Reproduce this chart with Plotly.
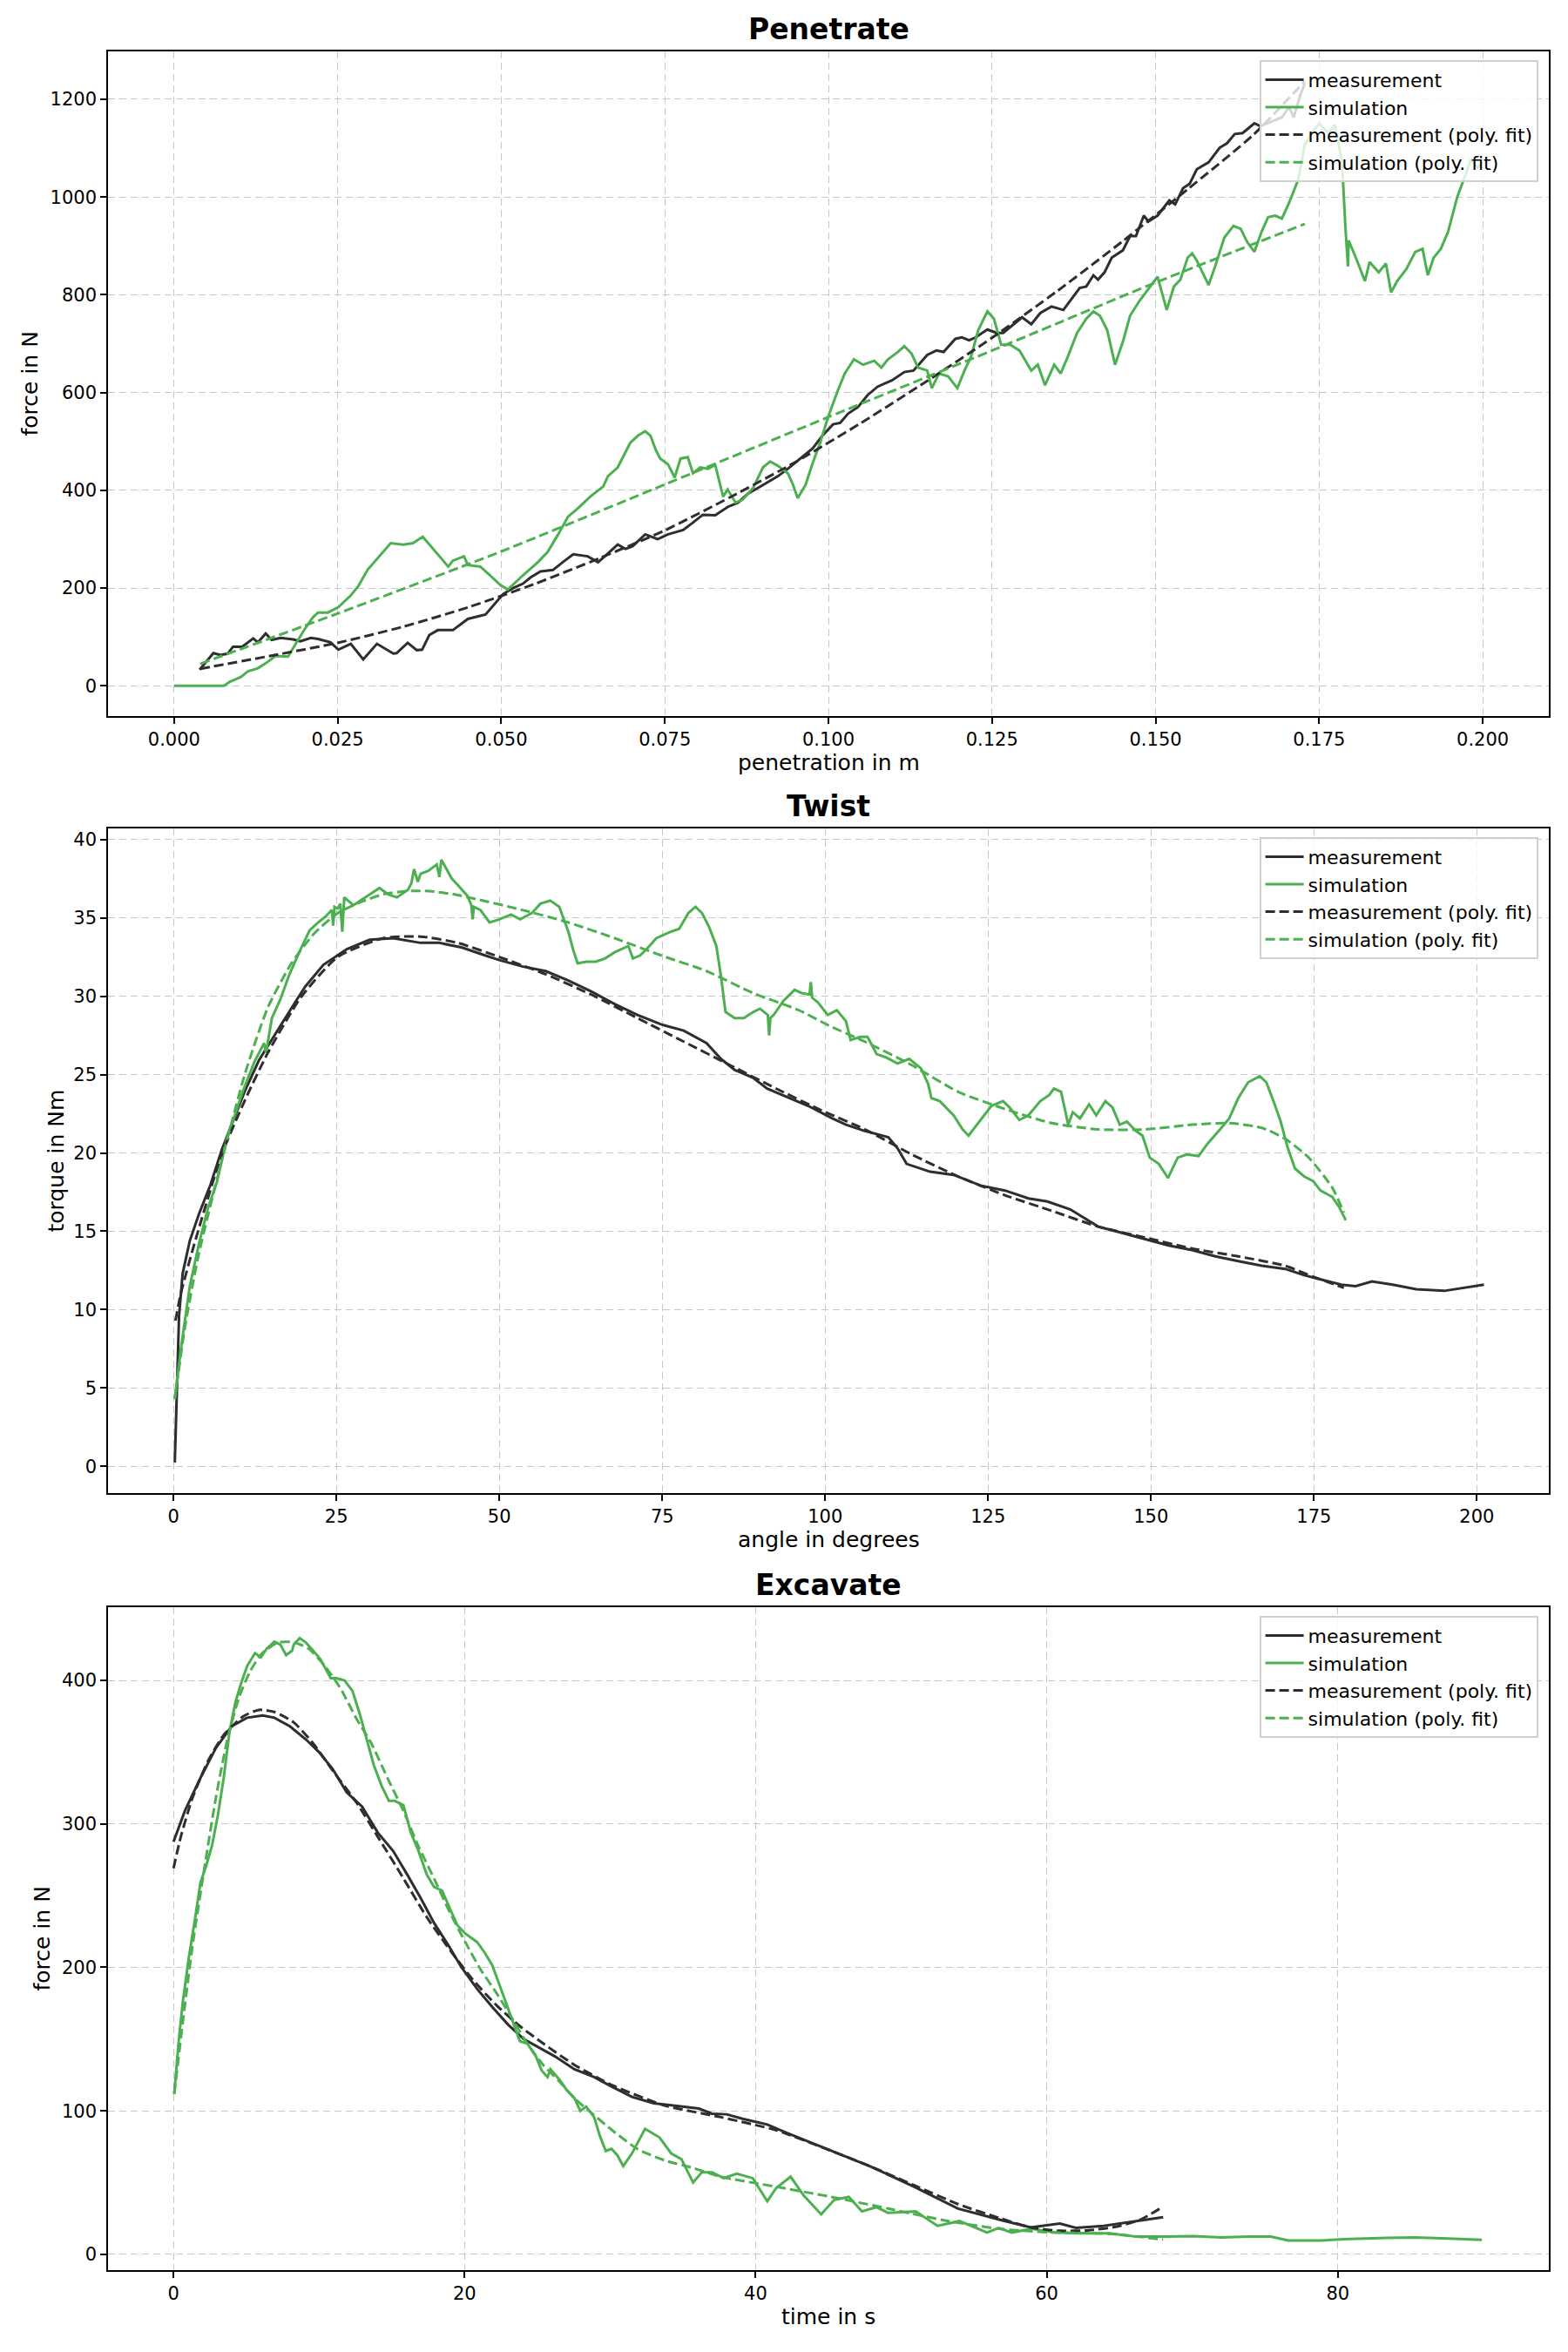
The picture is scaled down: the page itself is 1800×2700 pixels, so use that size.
import plotly.graph_objects as go

# ---------------- Penetrate ----------------
pen_meas_x = [0.0039, 0.006, 0.0071, 0.0082, 0.009, 0.0104, 0.0121, 0.0128, 0.014, 0.0149, 0.0163, 0.0182,
              0.0193, 0.0209, 0.022, 0.0239, 0.0251, 0.027, 0.0289, 0.031, 0.0335, 0.034, 0.0357, 0.0371,
              0.0379, 0.039, 0.0403, 0.0426, 0.0449, 0.0476, 0.0503, 0.0518, 0.0533, 0.0545, 0.056, 0.0579,
              0.0594, 0.061, 0.0632, 0.0648, 0.0663, 0.0678, 0.069, 0.0701, 0.072, 0.0739, 0.0755, 0.0778,
              0.0793, 0.0808, 0.0827, 0.0846, 0.0862, 0.0877, 0.09, 0.0923, 0.0938, 0.0957, 0.0976, 0.0991,
              0.1007, 0.1018, 0.103, 0.1045, 0.106, 0.1075, 0.1097, 0.1116, 0.113, 0.1151, 0.1165, 0.1176,
              0.1194, 0.1204, 0.1215, 0.1225, 0.1243, 0.1257, 0.1267, 0.1296, 0.131, 0.1324, 0.1341, 0.1359,
              0.1384, 0.1394, 0.1405, 0.1412, 0.1422, 0.1433, 0.145, 0.1461, 0.147, 0.1482, 0.1489, 0.1503,
              0.1521, 0.153, 0.1542, 0.1552, 0.1563, 0.1581, 0.1598, 0.1609, 0.1621, 0.1633, 0.1651, 0.166,
              0.1676, 0.1693, 0.1704, 0.1711, 0.1721, 0.1728]
pen_meas_y = [33, 67, 63, 66, 80, 80, 97, 89, 107, 94, 98, 95,
              91, 98, 96, 89, 74, 86, 54, 86, 66, 67, 88, 73,
              74, 104, 114, 114, 137, 146, 188, 200, 209, 222, 234, 237,
              253, 269, 265, 253, 271, 289, 280, 286, 310, 300, 310, 319,
              334, 350, 349, 366, 375, 393, 411, 429, 444, 465, 486, 512,
              535, 538, 557, 570, 595, 612, 625, 642, 645, 677, 686, 683,
              710, 713, 707, 713, 729, 722, 722, 754, 740, 763, 776, 769,
              814, 817, 840, 831, 846, 876, 891, 920, 920, 962, 950, 962,
              993, 985, 1018, 1027, 1057, 1071, 1101, 1110, 1129, 1131, 1151, 1145,
              1154, 1163, 1184, 1163, 1208, 1232]

pen_sim_x = [0.0, 0.002, 0.004, 0.006, 0.0076, 0.0086, 0.0102, 0.0113, 0.0128, 0.0142, 0.0155, 0.0174,
             0.0186, 0.0201, 0.0212, 0.022, 0.0235, 0.0251, 0.027, 0.0281, 0.0296, 0.0315, 0.0331, 0.035,
             0.0365, 0.038, 0.0392, 0.0403, 0.0419, 0.0426, 0.0443, 0.0449, 0.0468, 0.0483, 0.0499, 0.051,
             0.0533, 0.0556, 0.0571, 0.0587, 0.0602, 0.0617, 0.0636, 0.0656, 0.0663, 0.0678, 0.0697, 0.0709,
             0.072, 0.0728, 0.0736, 0.0743, 0.0755, 0.0765, 0.0774, 0.0785, 0.0793, 0.0804, 0.0816, 0.0827,
             0.0839, 0.0846, 0.0858, 0.0869, 0.0885, 0.09, 0.0911, 0.0923, 0.0938, 0.0946, 0.0953, 0.0965,
             0.0976, 0.0988, 0.0999, 0.1014, 0.1025, 0.1039, 0.1053, 0.107, 0.1081, 0.1091, 0.1106, 0.1116,
             0.1127, 0.1137, 0.1151, 0.1158, 0.1169, 0.1183, 0.1197, 0.1208, 0.1218, 0.1229, 0.1243, 0.1253,
             0.1264, 0.1278, 0.1292, 0.131, 0.132, 0.1331, 0.1345, 0.1355, 0.1366, 0.138, 0.1394, 0.1405,
             0.1415, 0.1426, 0.1438, 0.145, 0.1461, 0.1475, 0.1489, 0.1503, 0.1517, 0.1528, 0.1538, 0.1549,
             0.1556, 0.1563, 0.1581, 0.1591, 0.1605, 0.1619, 0.163, 0.164, 0.1651, 0.1662, 0.1672, 0.1683,
             0.1693, 0.1704, 0.1711, 0.1718, 0.1728, 0.1739, 0.175, 0.1764, 0.1774, 0.1785, 0.179, 0.1794,
             0.1795, 0.1806, 0.182, 0.1827, 0.1841, 0.1852, 0.186, 0.1869, 0.1883, 0.1897, 0.1908, 0.1916,
             0.1925, 0.1936, 0.1947, 0.1961, 0.1971, 0.1982, 0.1992, 0.1999]
pen_sim_y = [0, 0, 0, 0, 0, 9, 18, 30, 36, 48, 61, 60,
             86, 119, 140, 150, 150, 161, 185, 203, 238, 268, 292, 289,
             292, 305, 286, 268, 244, 256, 265, 247, 244, 226, 206, 197,
             226, 253, 274, 310, 346, 363, 387, 408, 429, 447, 497, 512,
             521, 512, 483, 465, 453, 426, 465, 468, 435, 447, 444, 452,
             387, 402, 375, 381, 405, 447, 459, 450, 435, 411, 384, 411,
             456, 500, 548, 603, 639, 668, 657, 665, 651, 668, 683, 695,
             680, 651, 645, 609, 639, 633, 609, 645, 674, 728, 766, 751,
             698, 698, 686, 645, 657, 615, 657, 639, 674, 722, 751, 766,
             757, 728, 657, 704, 757, 787, 811, 837, 769, 817, 831, 876,
             885, 870, 820, 858, 917, 941, 935, 908, 888, 929, 959, 962,
             956, 988, 1012, 1036, 1107, 1131, 1151, 1131, 1148, 1071, 941, 858,
             911, 876, 828, 867, 846, 864, 805, 828, 852, 888, 894, 840,
             876, 894, 929, 1000, 1036, 1077, 1060, 1071]

pen_meas_fit_x = [0.004, 0.015, 0.025, 0.035, 0.045, 0.055, 0.065, 0.075, 0.085, 0.095, 0.105, 0.115,
                  0.125, 0.135, 0.145, 0.155, 0.165, 0.1728]
pen_meas_fit_y = [35, 62, 88, 121, 161, 208, 261, 318, 386, 458, 538, 623,
                  712, 808, 910, 1017, 1128, 1237]

pen_sim_fit_x = [0.004, 0.025, 0.05, 0.075, 0.1, 0.125, 0.15, 0.1728]
pen_sim_fit_y = [45, 148, 275, 412, 550, 686, 825, 945]

pen_xticks = [0.0, 0.025, 0.05, 0.075, 0.1, 0.125, 0.15, 0.175, 0.2]
pen_yticks = [0, 200, 400, 600, 800, 1000, 1200]

# ---------------- Twist ----------------
tw_meas_x = [0.2, 0.85, 1.4, 2.5, 3.9, 5.7, 7.4, 9.2, 11.0, 13.1, 15.9, 18.8, 20.2, 23.0, 26.6, 30.1,
             33.7, 37.9, 40.8, 44.3, 47.8, 50.0, 53.5, 57.1, 60.6, 64.1, 67.7, 71.2, 74.8, 78.3, 81.8,
             84.0, 86.1, 88.9, 91.1, 94.6, 97.4, 101.1, 103.2, 106.1, 109.7, 111.1, 112.5, 116.1, 119.7,
             124.0, 127.6, 131.2, 134.1, 137.6, 141.9, 145.5, 149.1, 152.7, 156.3, 159.9, 163.4, 167.0,
             170.6, 173.5, 176.3, 179.2, 181.4, 183.9, 187.1, 190.7, 195.0, 197.8, 201.1]
tw_meas_y = [0.25, 9.6, 12.3, 14.4, 16.1, 18.0, 20.2, 22.1, 24.0, 25.9, 27.8, 29.7, 30.6, 32.0, 33.0, 33.6,
             33.7, 33.4, 33.4, 33.1, 32.6, 32.3, 31.9, 31.6, 31.0, 30.3, 29.5, 28.8, 28.2, 27.8, 27.0,
             26.0, 25.3, 24.8, 24.1, 23.5, 23.0, 22.2, 21.8, 21.4, 21.0, 20.3, 19.3, 18.8, 18.6,
             17.9, 17.6, 17.1, 16.9, 16.4, 15.3, 14.9, 14.5, 14.1, 13.8, 13.4, 13.1, 12.8,
             12.6, 12.2, 11.9, 11.6, 11.5, 11.8, 11.6, 11.3, 11.2, 11.4, 11.6]

tw_sim_x = [0.2, 1.1, 2.5, 3.9, 5.3, 6.7, 8.1, 9.6, 10.7, 12.4, 13.9, 14.2, 15.1, 16.4, 17.8, 19.4, 20.9,
            22.2, 23.4, 24.3, 24.5, 24.7, 25.2, 25.6, 25.9, 26.2, 27.6, 29.4, 31.6, 32.9, 34.3,
            36.0, 36.5, 36.9, 37.5, 37.9, 39.1, 40.4, 40.8, 41.1, 42.7, 43.6, 45.1, 45.7, 45.9, 46.1,
            47.1, 48.5, 50.0, 51.8, 53.2, 55.0, 56.3, 57.8, 59.2, 60.6, 61.3, 62.0, 63.4, 64.8, 66.2,
            67.7, 69.8, 70.5, 71.6, 72.6, 74.1, 76.2, 77.6, 79.0, 80.1, 81.1, 82.2, 83.3, 84.0, 84.7,
            86.1, 87.5, 89.0, 90.0, 91.2, 91.4, 91.6, 92.1, 93.6, 95.3, 96.4, 97.6, 97.8, 98.0, 98.9,
            100.4, 101.8, 103.2, 103.9, 105.4, 106.5, 107.9, 109.3, 111.1, 112.9, 114.7, 115.8, 116.3,
            117.6, 119.7, 121.1, 122.0, 123.7, 125.5, 127.3, 128.3, 129.8, 131.2, 133.0, 134.4, 135.1,
            136.2, 137.3, 138.0, 139.1, 140.5, 141.6, 143.0, 144.1, 145.2, 146.3, 147.7, 148.7, 149.8,
            151.2, 152.6, 154.1, 155.5, 157.3, 158.7, 160.6, 162.0, 163.4, 164.9, 166.7, 167.7, 168.8,
            169.9, 171.0, 172.1, 173.5, 174.9, 176.0, 177.8, 178.8, 179.6, 179.9]
tw_sim_y = [4.3, 7.4, 11.5, 14.2, 16.5, 18.2, 20.8, 22.7, 24.0, 25.8, 27.0, 26.4, 28.6, 29.8, 31.4, 32.9, 34.2,
            34.7, 35.1, 35.5, 34.5, 35.7, 35.6, 35.9, 34.1, 36.3, 35.8, 36.3, 36.9, 36.5, 36.3,
            36.8, 37.2, 38.1, 37.3, 37.8, 38.0, 38.4, 37.6, 38.7, 37.5, 37.1, 36.4, 35.8, 34.9, 35.7,
            35.5, 34.7, 34.9, 35.2, 34.9, 35.3, 35.9, 36.1, 35.7, 34.1, 33.0, 32.1, 32.2, 32.2, 32.4,
            32.8, 33.2, 32.4, 32.6, 33.0, 33.7, 34.1, 34.3, 35.3, 35.7, 35.3, 34.4, 33.2, 31.3, 29.0,
            28.6, 28.6, 29.0, 29.2, 28.8, 27.5, 28.6, 28.8, 29.7, 30.4, 30.2, 30.1, 30.9, 29.9, 29.6,
            28.8, 29.1, 28.4, 27.2, 27.4, 27.4, 26.3, 26.1, 25.7, 26.0, 25.4, 24.4, 23.5,
            23.3, 22.4, 21.5, 21.1, 22.0, 23.0, 23.3, 22.9, 22.1, 22.4, 23.3, 23.7, 24.1,
            23.9, 21.8, 22.6, 22.2, 23.1, 22.4, 23.3, 22.9, 21.8, 22.0, 21.4, 21.1, 19.7,
            19.3, 18.4, 19.7, 19.9, 19.8, 20.6, 21.5, 22.2, 23.5, 24.5, 24.9, 24.5, 23.3,
            22.0, 20.3, 19.0, 18.5, 18.2, 17.6, 17.2, 16.6, 16.0, 15.7]

tw_meas_fit_x = [0.3, 1.1, 3.2, 7.4, 11.0, 14.5, 19.5, 25.2, 32.2, 37.9, 43.6, 50.0, 57.1, 64.1, 71.2,
                 78.3, 85.4, 92.5, 99.5, 106.1, 113.3, 120.4, 127.6, 134.8, 141.9, 149.1, 156.3, 163.4,
                 170.6, 174.9, 179.6]
tw_meas_fit_y = [9.3, 11.0, 14.2, 19.9, 23.4, 26.4, 29.9, 32.5, 33.7, 33.8, 33.4, 32.5, 31.4, 30.1, 28.6,
                 27.1, 25.6, 24.1, 22.7, 21.5, 19.9, 18.5, 17.3, 16.3, 15.3, 14.6, 13.9, 13.4,
                 12.8, 12.1, 11.4]

tw_sim_fit_x = [0.2, 1.8, 3.9, 7.4, 11.0, 14.5, 18.1, 21.6, 25.2, 28.7, 32.2, 35.8, 39.3, 42.9, 46.4,
                53.5, 60.6, 67.7, 74.8, 81.8, 88.9, 96.0, 100.7, 106.1, 113.3, 120.4, 127.6, 134.8,
                141.9, 149.1, 156.3, 162.0, 167.0, 170.6, 174.2, 177.8, 179.6]
tw_sim_fit_y = [4.3, 9.0, 13.6, 19.5, 25.1, 29.3, 32.1, 34.0, 35.3, 36.0, 36.5, 36.7, 36.7, 36.5, 36.2,
                35.5, 34.7, 33.7, 32.6, 31.6, 30.2, 29.1, 28.1, 27.1, 25.6, 23.9, 22.8, 21.9,
                21.5, 21.5, 21.8, 21.9, 21.6, 20.9, 19.7, 17.8, 16.2]

tw_xticks = [0, 25, 50, 75, 100, 125, 150, 175, 200]
tw_yticks = [0, 5, 10, 15, 20, 25, 30, 35, 40]

# ---------------- Excavate ----------------
ex_meas_x = [0, 0.78, 1.85, 2.92, 3.99, 5.06, 6.13, 6.93, 8.0, 9.08, 10.0, 10.95, 11.9, 12.96, 14.03,
             15.1, 16.04, 16.97, 17.9, 18.85, 19.79, 20.86, 21.93, 23.0, 24.07, 25.14, 26.2, 27.55,
             28.9, 30.0, 31.5, 33.0, 34.5, 36.1, 37.0, 38.0, 39.1, 40.8, 42.2, 44.9, 47.9, 50.9,
             53.9, 56.9, 58.9, 60.9, 62.0, 63.9, 65.9, 68.0]
ex_meas_y = [287.6, 309, 332, 353, 368, 374, 375.6, 374, 368, 359, 350, 338, 322, 312, 294,
             281, 265, 248.5, 231, 216, 200, 185, 172, 160, 150, 144, 138, 129,
             123.5, 117.5, 109.7, 105.3, 103.6, 101.6, 98, 97.6, 94.5, 90.5, 84.4, 73.3, 61.2, 47.1,
             31.9, 23.8, 18.8, 21.4, 18.4, 19.8, 22.8, 25.9]

ex_sim_x = [0.05, 0.37, 0.64, 1.04, 1.45, 1.85, 2.25, 2.65, 3.05, 3.45, 3.86, 4.26, 4.66, 5.06, 5.6,
            6.0, 6.4, 6.93, 7.34, 7.74, 8.14, 8.27, 8.67, 9.08, 9.6, 10.1, 10.8, 11.2, 11.75, 12.3,
            12.8, 13.2, 13.76, 14.3, 14.8, 15.2, 15.8, 16.3, 16.8, 17.4, 17.9, 18.45, 19.0, 19.5,
            20.05, 20.86, 21.4, 21.9, 22.5, 23.0, 23.4, 23.8, 24.3, 24.9, 25.3, 25.7, 25.9, 26.5,
            27.0, 27.55, 27.95, 28.35, 28.9, 29.3, 29.7, 30.1, 30.5, 30.9, 31.5, 32.4, 33.4, 34.2,
            34.9, 35.7, 36.3, 37.0, 37.8, 38.7, 39.8, 40.8, 41.4, 42.4, 43.3, 44.5, 45.4, 46.4,
            47.3, 48.3, 49.1, 51.0, 52.5, 54.0, 55.9, 56.7, 57.6, 59.0, 60.5, 62.4, 64.3, 66.2,
            68.2, 70.1, 72.0, 73.9, 75.4, 76.6, 78.9, 80.8, 83.4, 85.3, 87.2, 88.8, 89.9]
ex_sim_y = [111.8, 150, 176, 206, 232, 259, 271, 285, 306, 332, 365, 385, 398.5, 410, 419,
            416, 422, 427, 425, 417.6, 420.6, 425, 429.4, 426.5, 420.6, 414.7, 401.5, 401.5, 400, 392.6,
            376.5, 361.8, 341, 326.5, 316, 316, 313, 294, 282, 264.7, 256, 253.5, 241, 229.4,
            223.5, 217.6, 210, 201.5, 185, 170.6, 160.3, 148.5, 147, 138, 128, 123.5, 129, 122,
            114.7, 108.8, 100, 103, 95.6, 82.4, 72, 73.5, 69, 61.5, 70.3, 87.5, 81.4, 70.3,
            66.3, 50.1, 57.2, 57.2, 53.1, 56.2, 53.1, 37, 46.1, 54.1, 41, 27.9, 38, 40,
            29.9, 32.9, 28.9, 29.9, 19.8, 23.2, 15.2, 18.4, 15.2, 17.8, 15.2, 14.7, 14.7, 12.3,
            12.3, 12.7, 11.7, 12.3, 12.3, 9.7, 9.7, 10.7, 11.5, 11.7, 11.1, 10.3, 10.1]

ex_meas_fit_x = [0, 0.5, 1.3, 2.38, 3.45, 4.8, 5.86, 6.93, 8.27, 9.6, 10.95, 12.56, 14.16, 15.8, 17.4,
                 19.0, 20.6, 22.2, 23.8, 25.4, 27.55, 30.2, 33.8, 37.6, 41.4, 44.9, 47.9, 50.9, 53.9,
                 56.9, 58.9, 60.9, 62.9, 64.9, 66.5, 68.0]
ex_meas_fit_y = [269, 291, 318, 344, 362, 375, 379.4, 378, 370.6, 356, 337, 315, 289, 262, 235,
                 212, 191, 173.5, 159, 147, 132, 117.6, 103.6, 95.6, 86.5, 73.3, 61.2, 48.1, 35,
                 24.8, 18.8, 16.4, 16.8, 19.5, 24.5, 33.3]

ex_sim_fit_x = [0.05, 0.64, 1.3, 2.1, 2.9, 3.7, 4.5, 5.3, 6.1, 7.2, 8.27, 9.3, 10.4, 11.5, 12.56, 13.6,
                14.7, 15.8, 16.8, 17.9, 19.0, 20.05, 21.1, 22.2, 23.25, 24.3, 25.4, 26.5, 27.55, 28.9,
                30.2, 31.9, 33.8, 35.7, 37.6, 41.4, 45.2, 49.1, 52.9, 56.7, 60.5, 64.3, 68.0]
ex_sim_fit_y = [111.8, 162, 214.7, 267.6, 317.6, 358.8, 388, 407, 419, 426.5, 426.5, 422, 410, 394, 373.5, 356,
                332, 309, 285, 262, 238, 217.6, 198.5, 182, 164.7, 147, 132, 120.6, 108.8, 97,
                86, 73.3, 65.3, 60.2, 54.1, 47.1, 40, 31.9, 23.8, 17.8, 15.2, 14.3, 10.3]

ex_xticks = [0, 20, 40, 60, 80]
ex_yticks = [0, 100, 200, 300, 400]

# ---------------- Figure ----------------
BLACK = "#2e2e2e"
GREEN = "#4caf50"
DASH = "11px,5px"
FONT = "DejaVu Sans"
W, H = 1800, 2700

fig = go.Figure()

panels = [
    dict(title="Penetrate", xlabel="penetration in m", ylabel="force in N",
         meas=(pen_meas_x, pen_meas_y), sim=(pen_sim_x, pen_sim_y),
         mfit=(pen_meas_fit_x, pen_meas_fit_y), sfit=(pen_sim_fit_x, pen_sim_fit_y),
         xr=[-0.0101, 0.2101], yr=[-61.8, 1298], xt=pen_xticks, yt=pen_yticks, xfmt=".3f",
         top=59, bot=822, ylab_x=34),
    dict(title="Twist", xlabel="angle in degrees", ylabel="torque in Nm",
         meas=(tw_meas_x, tw_meas_y), sim=(tw_sim_x, tw_sim_y),
         mfit=(tw_meas_fit_x, tw_meas_fit_y), sfit=(tw_sim_fit_x, tw_sim_fit_y),
         xr=[-10.05, 211.05], yr=[-1.7, 40.7], xt=tw_xticks, yt=tw_yticks, xfmt="d",
         top=951, bot=1714, ylab_x=64),
    dict(title="Excavate", xlabel="time in s", ylabel="force in N",
         meas=(ex_meas_x, ex_meas_y), sim=(ex_sim_x, ex_sim_y),
         mfit=(ex_meas_fit_x, ex_meas_fit_y), sfit=(ex_sim_fit_x, ex_sim_fit_y),
         xr=[-4.5, 94.5], yr=[-11, 451], xt=ex_xticks, yt=ex_yticks, xfmt="d",
         top=1845, bot=2606, ylab_x=48),
]

x_left, x_right = 124, 1778
annotations = []
layout_axes = {}
for i, p in enumerate(panels, start=1):
    sfx = "" if i == 1 else str(i)
    xa, ya = "x" + sfx, "y" + sfx
    leg = "legend" + sfx
    common = dict(xaxis=xa, yaxis=ya, legend=leg, mode="lines")
    fig.add_trace(go.Scatter(x=p["meas"][0], y=p["meas"][1], name="measurement",
                             line=dict(color=BLACK, width=3), **common))
    fig.add_trace(go.Scatter(x=p["sim"][0], y=p["sim"][1], name="simulation",
                             line=dict(color=GREEN, width=3), **common))
    fig.add_trace(go.Scatter(x=p["mfit"][0], y=p["mfit"][1], name="measurement (poly. fit)",
                             line=dict(color=BLACK, width=3, dash=DASH, shape="spline", smoothing=0.6), **common))
    fig.add_trace(go.Scatter(x=p["sfit"][0], y=p["sfit"][1], name="simulation (poly. fit)",
                             line=dict(color=GREEN, width=3, dash=DASH, shape="spline", smoothing=0.6), **common))

    ydom = [1 - p["bot"] / H, 1 - p["top"] / H]
    axis_common = dict(showline=True, mirror=True, linecolor="black", linewidth=1.6,
                       ticks="outside", ticklen=7, tickwidth=1.6, tickcolor="black",
                       showgrid=True, gridcolor="#c8c8c8", gridwidth=1.4, griddash="8px,5px",
                       zeroline=False, tickfont=dict(family=FONT, size=21, color="black"))
    layout_axes["xaxis" + sfx] = dict(domain=[x_left / W, x_right / W], range=p["xr"], anchor=ya,
                                      tickmode="array", tickvals=p["xt"],
                                      ticktext=[format(v, p["xfmt"]) if p["xfmt"] != "d" else str(int(v)) for v in p["xt"]],
                                      **axis_common)
    layout_axes["yaxis" + sfx] = dict(domain=ydom, range=p["yr"], anchor=xa,
                                      tickmode="array", tickvals=p["yt"], **axis_common)
    layout_axes[leg] = dict(x=(x_right - 12) / W, y=1 - (p["top"] + 10) / H, xanchor="right", yanchor="top",
                            bgcolor="rgba(255,255,255,0.8)", bordercolor="#d0d0d0", borderwidth=1.6,
                            font=dict(family=FONT, size=22, color="black"), itemwidth=44,
                            tracegroupgap=0)
    xc = (x_left + x_right) / 2 / W
    annotations.append(dict(text="<b>" + p["title"] + "</b>", x=xc, y=1 - (p["top"] - 4) / H,
                            xref="paper", yref="paper", xanchor="center", yanchor="bottom",
                            showarrow=False, font=dict(family=FONT, size=33, color="black")))
    annotations.append(dict(text=p["xlabel"], x=xc, y=1 - (p["bot"] + 53) / H,
                            xref="paper", yref="paper", xanchor="center", yanchor="middle",
                            showarrow=False, font=dict(family=FONT, size=25, color="black")))
    annotations.append(dict(text=p["ylabel"], x=p["ylab_x"] / W, y=1 - (p["top"] + p["bot"]) / 2 / H,
                            xref="paper", yref="paper", xanchor="center", yanchor="middle",
                            textangle=-90, showarrow=False, font=dict(family=FONT, size=25, color="black")))

fig.update_layout(width=W, height=H, margin=dict(l=0, r=0, t=0, b=0),
                  plot_bgcolor="white", paper_bgcolor="white",
                  font=dict(family=FONT, color="black"),
                  showlegend=True, annotations=annotations, **layout_axes)

fig.write_html("out.html", config={"displayModeBar": False},
               post_script="document.body.style.margin='0';")
